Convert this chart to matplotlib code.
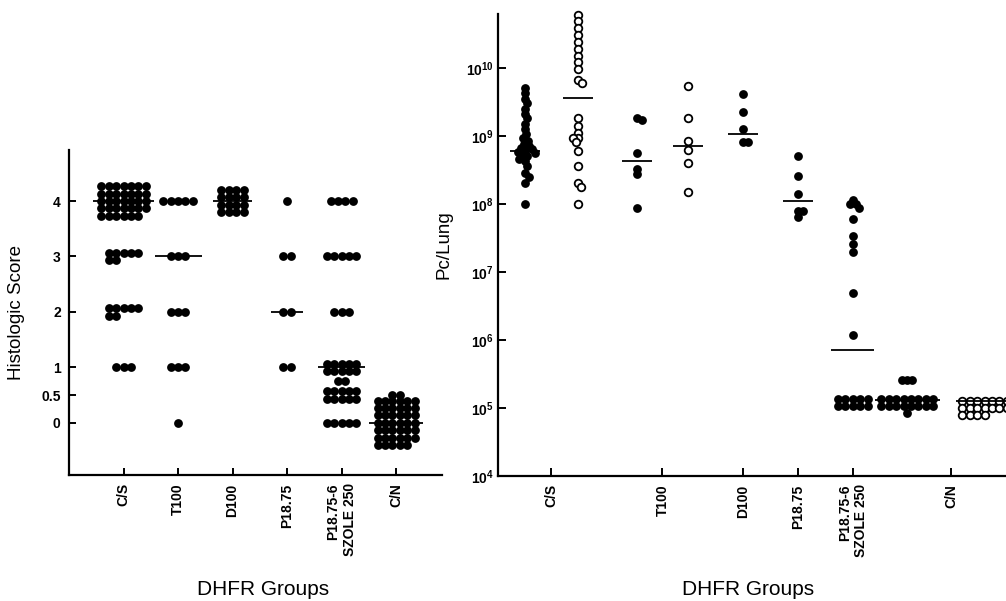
import matplotlib
matplotlib.use("Agg")
import matplotlib.pyplot as plt
import numpy as np

plt.rcParams.update({
    "font.family": ["Liberation Sans", "DejaVu Sans"],
    "mathtext.fontset": "custom",
    "mathtext.rm": "Liberation Sans",
    "mathtext.bf": "Liberation Sans:bold",
    "axes.linewidth": 1.6,
    "axes.spines.top": False,
    "axes.spines.right": False,
    "xtick.direction": "in",
    "ytick.direction": "in",
    "xtick.major.width": 1.4,
    "ytick.major.width": 1.4,
})

# ---------------- left panel: histologic score ----------------
groups = ["C/S", "T100", "D100", "P18.75", "P18.75-6\nSZOLE 250", "C/N"]
hist_scores = [[4, 3, 2, 1], [4, 3, 2, 1, 0], [4], [4, 3, 2, 1],
               [4, 3, 2, 1, 0.75, 0.5, 0], [0.5, 0]]
hist_counts = [[34, 7, 7, 3], [5, 3, 3, 3, 1], [16], [1, 2, 2, 2],
               [4, 5, 3, 10, 2, 10, 5], [2, 41]]
hist_medians = [4, 3, 4, 2, 1, 0]
hist_ticks = [0, 0.5, 1, 2, 3, 4]
hist_ticklabels = ["0", "0.5", "1", "2", "3", "4"]

# ---------------- right panel: Pc per lung ----------------
pc_cs_filled = [5.0e9, 4.2e9, 3.5e9, 3.0e9, 2.5e9, 2.1e9, 1.8e9, 1.5e9, 1.26e9,
                1.07e9, 9.3e8, 8.5e8, 7.6e8, 7.1e8, 6.6e8, 6.3e8, 6.0e8, 5.8e8,
                5.5e8, 5.2e8, 5.0e8, 4.6e8, 4.2e8, 3.6e8, 2.8e8, 2.5e8, 2.0e8, 1.0e8]
pc_cs_open = [6.0e10, 4.8e10, 3.8e10, 3.0e10, 2.4e10, 1.9e10, 1.5e10, 1.2e10, 9.5e9,
              6.6e9, 6.0e9, 1.8e9, 1.4e9, 1.1e9, 9.3e8, 9.3e8, 8.0e8, 6.0e8,
              3.6e8, 2.0e8, 1.75e8, 1.0e8]
pc_t100_filled = [1.8e9, 1.7e9, 5.6e8, 3.3e8, 2.75e8, 8.7e7]
pc_t100_open = [5.4e9, 1.8e9, 8.5e8, 6.2e8, 4.0e8, 1.5e8]
pc_d100 = [4.1e9, 2.2e9, 1.26e9, 8.0e8, 8.0e8]
pc_p1875 = [5.0e8, 2.6e8, 1.4e8, 7.9e7, 7.9e7, 6.5e7]
pc_p18756 = [1.15e8, 1.0e8, 1.0e8, 8.8e7, 6.0e7, 3.4e7, 2.6e7, 1.95e7, 4.9e6, 1.2e6]
pc_cn_filled = [2.6e5, 2.6e5, 2.6e5, 8.5e4]
pc_cn_open = []

pc_series = [pc_cs_filled, pc_cs_open, pc_t100_filled, pc_t100_open, pc_d100,
             pc_p1875, pc_p18756, pc_cn_filled, pc_cn_open]
pc_open = [False, True, False, True, False, False, False, False, True]
pc_medians = [6.0e8, 3.6e9, 4.2e8, 7.2e8, 1.07e9, 1.1e8, 7.0e5, 1.3e5, 1.25e5]
# values stacked at the detection limit
pc_limit_value = [0, 0, 0, 0, 0, 0, 1.2e5, 1.2e5, 1.0e5]
pc_limit_count = [0, 0, 0, 0, 0, 0, 10, 16, 24]
pc_tick_members = [[0, 1], [2, 3], [4], [5], [6], [7, 8]]
pc_ticks = [1e4, 1e5, 1e6, 1e7, 1e8, 1e9, 1e10]

# ---------------- layout ----------------
W, H = 1006, 601
fig = plt.figure(figsize=(W / 100, H / 100), dpi=100)
axL = fig.add_axes([69 / W, 1 - 475 / H, 373 / W, 325 / H])
axR = fig.add_axes([498 / W, 1 - 476 / H, 550 / W, 462 / H])

hist_pos = np.arange(1, 7)
pc_pos = [0.49, 1.45, 2.53, 3.45, 4.45, 5.45, 6.45, 7.44, 9.05]
pc_cols = [0, 0, 0, 0, 0, 0, 5, 8, 10]
hist_cols = [{4: 7}, {}, {4: 4}, {}, {}, {0: 6}]

axL.set_xlim(0, 6.84)
axL.set_ylim(-0.94, 4.92)
axR.set_xlim(0, 10)
axR.set_yscale("log")
axR.set_ylim(1e4, 10 ** 10.79)

DOT = 40      # marker area (pt^2), ~8.5 px across
SP = 7.4      # dot spacing inside stacked blocks, px


def to_data(ax, px):
    return ax.transData.inverted().transform(px)


def block(ax, x, v, n, ncols, sp=SP):
    """stack n equal values into a grid centred on (x, v)"""
    x0, y0 = ax.transData.transform((x, v))
    nrows = int(np.ceil(n / ncols))
    pts = []
    for i in range(n):
        r, c = divmod(i, ncols)
        pts.append((x0 + (c - (ncols - 1) / 2) * sp,
                    y0 + ((nrows - 1) / 2 - r) * sp))
    return to_data(ax, np.array(pts)), ncols * sp / 2


def swarm(ax, x, values, gap=5.0):
    if len(values) == 0:
        return np.zeros((0, 2))
    base = ax.transData.transform(np.column_stack([np.full(len(values), x), values]))
    placed = []
    for bx, by in base:
        cands = [0.0]
        for px, py in placed:
            dy = by - py
            if abs(dy) < gap:
                dx = np.sqrt(gap ** 2 - dy ** 2)
                cands += [px + dx, px - dx]
        cands.sort(key=abs)
        for c in cands:
            if all((c - px) ** 2 + (by - py) ** 2 >= gap ** 2 - 1e-6 for px, py in placed):
                break
        placed.append((c, by))
    pts = np.array([(base[0, 0] + c, y) for c, y in placed])
    return to_data(ax, pts)


def median_line(ax, x, m, half_px):
    x0, y0 = ax.transData.transform((x, m))
    (xa, ya), (xb, yb) = to_data(ax, np.array([[x0 - half_px, y0], [x0 + half_px, y0]]))
    ax.plot([xa, xb], [m, m], color="black", lw=1.3, solid_capstyle="butt", zorder=4)


# left panel marks
for g, x in enumerate(hist_pos):
    widest = 0
    for v, n in zip(hist_scores[g], hist_counts[g]):
        ncols = hist_cols[g].get(v, 5)
        pts, half = block(axL, x, v, n, min(ncols, n))
        widest = max(widest, min(n, ncols) * SP / 2)
        axL.scatter(pts[:, 0], pts[:, 1], s=DOT, color="black", lw=0, zorder=3)
    median_line(axL, x, hist_medians[g], max(widest + 5, 16))

axL.set_yticks(hist_ticks)
axL.set_yticklabels(hist_ticklabels)
axL.set_xticks(hist_pos)
axL.set_xticklabels(groups, rotation=90, multialignment="right")
axL.tick_params(axis="both", length=5, labelsize=10, pad=6)
for t in axL.get_xticklabels() + axL.get_yticklabels():
    t.set_fontweight("bold")
axL.set_ylabel("Histologic Score", fontsize=13.5)
axL.yaxis.set_label_coords(-0.118, 0.5)
axL.set_xlabel("DHFR Groups", fontsize=15)
axL.xaxis.set_label_coords(0.52, -0.323)

# right panel marks
for k, vals in enumerate(pc_series):
    x = pc_pos[k]
    chunks = [swarm(axR, x, vals)]
    half = 15
    if pc_limit_count[k]:
        pts, bh = block(axR, x, pc_limit_value[k], pc_limit_count[k], pc_cols[k])
        chunks.append(pts)
        half = bh + 3
    pts = np.vstack(chunks)
    if pc_open[k]:
        axR.scatter(pts[:, 0], pts[:, 1], s=30, facecolor="white", edgecolor="black",
                    lw=1.3, zorder=3, clip_on=False)
    else:
        axR.scatter(pts[:, 0], pts[:, 1], s=DOT, color="black", lw=0, zorder=3,
                    clip_on=False)
    median_line(axR, x, pc_medians[k], half)

axR.set_yticks(pc_ticks)
axR.set_yticklabels([r"$\mathbf{10^{%d}}$" % round(np.log10(t)) for t in pc_ticks])
axR.minorticks_off()
axR.set_xticks([np.mean([pc_pos[i] for i in m]) for m in pc_tick_members])
axR.set_xticklabels(groups, rotation=90, multialignment="right")
axR.tick_params(axis="x", length=6, labelsize=10, pad=6)
axR.tick_params(axis="y", length=6, labelsize=10, pad=3)
for t in axR.get_xticklabels():
    t.set_fontweight("bold")
axR.set_ylabel("Pc/Lung", fontsize=13.5)
axR.yaxis.set_label_coords(-0.082, 0.5)
axR.set_xlabel("DHFR Groups", fontsize=15)
axR.xaxis.set_label_coords(0.455, -0.225)

fig.savefig("out.png", dpi=100)
